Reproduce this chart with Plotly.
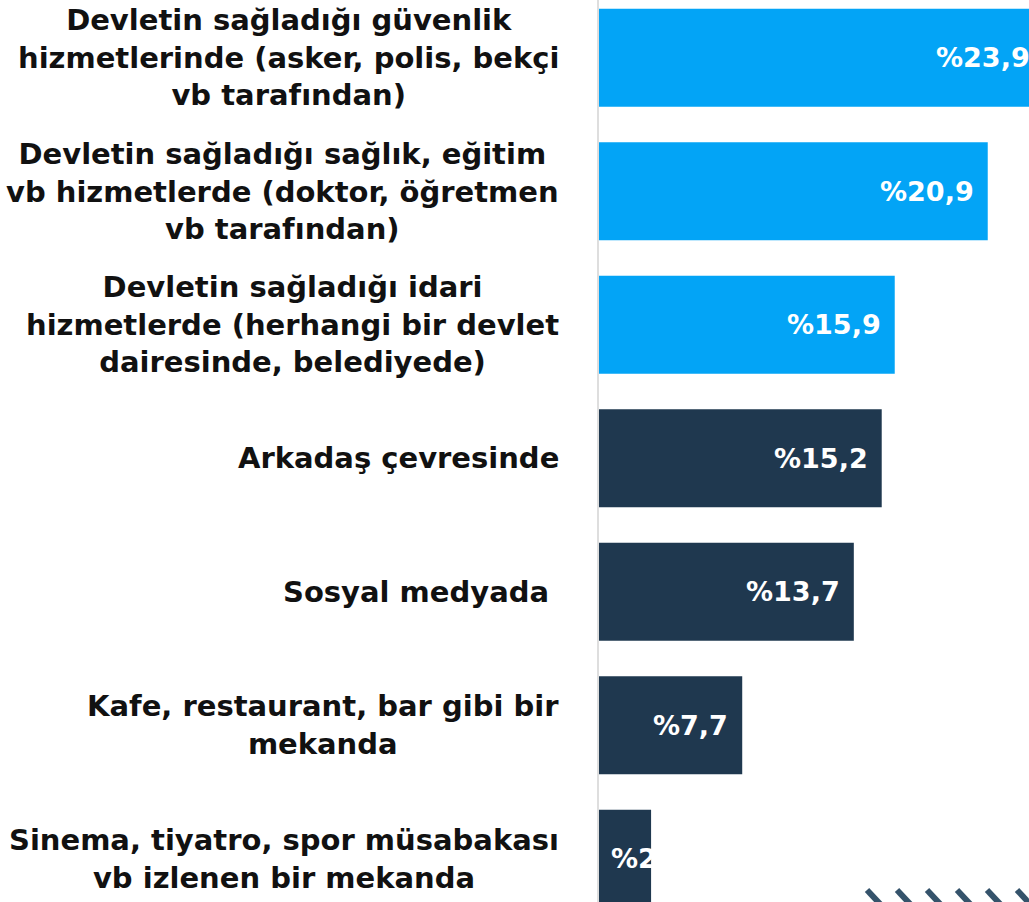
import plotly.graph_objects as go

categories = [
    "Devletin sağladığı güvenlik<br>hizmetlerinde (asker, polis, bekçi<br>vb tarafından)",
    "Devletin sağladığı sağlık, eğitim<br>vb hizmetlerde (doktor, öğretmen<br>vb tarafından)",
    "Devletin sağladığı idari<br>hizmetlerde (herhangi bir devlet<br>dairesinde, belediyede)",
    "Arkadaş çevresinde",
    "Sosyal medyada\u00a0",
    "Kafe, restaurant, bar gibi bir<br>mekanda",
    "Sinema, tiyatro, spor müsabakası<br>vb izlenen bir mekanda",
]
values = [23.9, 20.9, 15.9, 15.2, 13.7, 7.7, 2.8]
colors = ["#03a4f6", "#03a4f6", "#03a4f6", "#1f384f", "#1f384f", "#1f384f", "#1f384f"]

W, H = 1029, 902
L = 599
XMAX = (W - L) / 18.6
FONT = "DejaVu Sans"

ypos = list(range(len(values)))
labels = ["%" + f"{v:.1f}".replace(".", ",") for v in values]

fig = go.Figure(go.Bar(
    x=values, y=ypos, orientation="h", marker=dict(color=colors, line=dict(width=0)),
    width=0.734, hoverinfo="skip",
))

ann = []
for yi, (cat, v, lab) in enumerate(zip(categories, values, labels)):
    ann.append(dict(xref="paper", yref="y", x=0, y=yi, xanchor="right", yanchor="middle",
                    xshift=-38, text=cat, align="center", showarrow=False,
                    font=dict(family=FONT, size=29, color="#111111", weight=700)))
    if v * 18.6 > 110:
        ann.append(dict(xref="paper", yref="y", x=v / XMAX, y=yi, xanchor="right", yanchor="middle",
                        xshift=-12, text=lab, showarrow=False,
                        font=dict(family=FONT, size=27, color="white", weight=700)))
    else:
        ann.append(dict(xref="paper", yref="y", x=0, y=yi, xanchor="left", yanchor="middle",
                        xshift=10, text=lab, showarrow=False,
                        font=dict(family=FONT, size=27, color="white", weight=700)))

shapes = []
for i in range(6):
    x0 = 867 + 30 * i
    shapes.append(dict(type="line", xref="paper", yref="paper",
                       x0=(x0 - L) / (W - L), x1=(x0 + 14 - L) / (W - L),
                       y0=(H - 890) / H, y1=(H - 905) / H,
                       line=dict(color="#35536b", width=6)))

fig.update_layout(
    width=W, height=H, margin=dict(l=L, r=0, t=0, b=0),
    paper_bgcolor="white", plot_bgcolor="white", showlegend=False,
    xaxis=dict(range=[0, XMAX], visible=False, fixedrange=True),
    yaxis=dict(range=[6.324, -0.432], showticklabels=False, showgrid=False, zeroline=False,
               showline=True, linecolor="#dedede", linewidth=2, ticks="", fixedrange=True),
    annotations=ann, shapes=shapes,
)
fig.write_html("out.html", config={"displayModeBar": False},
               post_script="document.body.style.margin='0px';document.body.style.overflow='hidden';")
